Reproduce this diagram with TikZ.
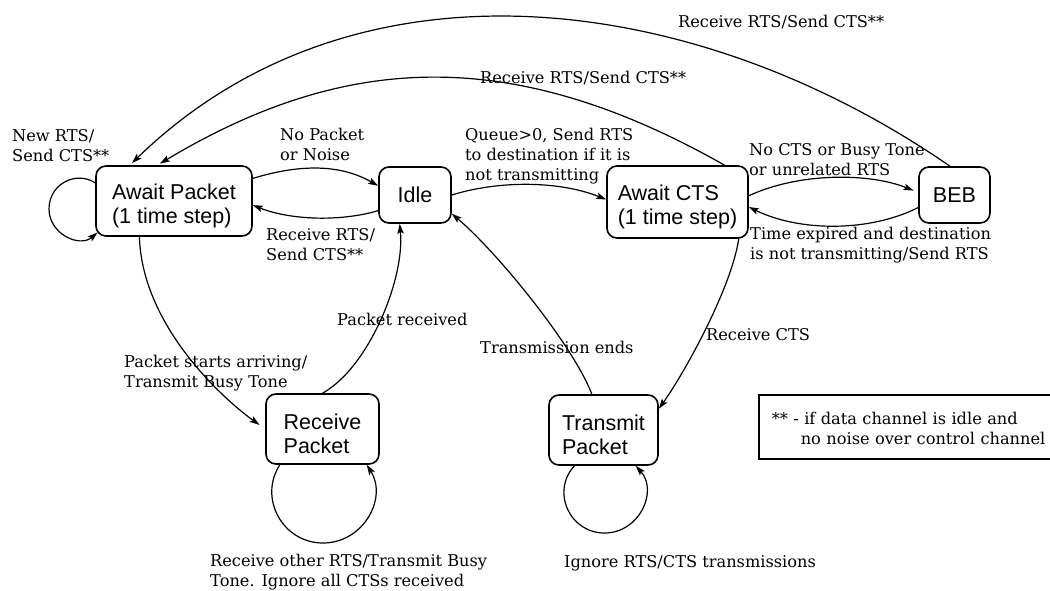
\documentclass[tikz,border=0pt]{standalone}
\usepackage{fontspec}
\setmainfont{DejaVu Serif}
\newfontfamily\sansf{Liberation Sans}
\usetikzlibrary{arrows.meta}
\newcommand\tallstrut{\rule{0pt}{25.5pt}}
\begin{document}
\begin{tikzpicture}[x=1pt,y=-1pt,
  state/.style={draw, line width=1.6pt, rounded corners=10pt, align=left, inner sep=0pt, font=\fontsize{21.5}{23.5}\sansf},
  lbl/.style={align=left, anchor=base west, inner sep=0pt, font=\fontsize{16.2}{20}\selectfont},
  edge/.style={line width=1.2pt, -{Stealth[length=10pt,width=6.5pt,inset=2pt]}},
  legendbox/.style={draw, line width=1.6pt, anchor=north west, align=left, text width=290pt, inner xsep=13pt, inner ysep=0pt, minimum height=64pt, font=\fontsize{16.2}{20}\selectfont}
]
\useasboundingbox (0,0) rectangle (1050,590);

% states
\node[state, minimum width=156pt, minimum height=70pt] (ap) at (174,201) {\tallstrut Await Packet\\(1 time step)};
\node[state, minimum width=72pt, minimum height=56pt] (idle) at (415,195) {Idle};
\node[state, minimum width=141pt, minimum height=72pt] (cts) at (677.5,202) {\tallstrut Await CTS\\(1 time step)};
\node[state, minimum width=71pt, minimum height=56pt] (beb) at (954.5,195) {BEB};
\node[state, minimum width=113pt, minimum height=70pt] (rp) at (322.5,429) {\tallstrut Receive\\Packet};
\node[state, minimum width=109pt, minimum height=70pt] (tp) at (603.5,430) {\tallstrut Transmit\\Packet};

% legend
\node[legendbox] (legend) at (758,394) {\rule{0pt}{15pt}** - if data channel is idle and\\\hspace*{29pt}no noise over control channel};

% connectors
\draw[edge] (ap.16) .. controls (300,164) and (340,164) .. (idle.166);
\draw[edge] (idle.-157.4) .. controls (340,222) and (290,220) .. (ap.-3);
\draw[edge] (idle.east) .. controls (500,180) and (560,181) .. (cts.178.4);
\draw[edge, shorten >=5pt] (cts.5.6) .. controls (800,172) and (870,173) .. (beb.176.8);
\draw[edge] (beb.-161.3) .. controls (870,232) and (800,232) .. (cts.-4);
\draw[edge] (cts.-31.6) .. controls (731,290) and (683,375) .. (tp.21.6);
\draw[edge] (tp.108.2) .. controls (573,345) and (497,252) .. (idle.-27.8);
\draw[edge] (rp.north) .. controls (368,368) and (405,280) .. (idle.-118);
\draw[edge, shorten >=7pt] (ap.-134.2) .. controls (142,325) and (222,398) .. (rp.west);
\draw[edge] (rp.-140.3) .. controls (258.2,497.9) and (282.5,543) .. (323,543) .. controls (363.5,543) and (387.8,497.9) .. (rp.-39.1);
\draw[edge] (tp.-129.4) .. controls (550.8,490.9) and (569.2,533) .. (604.5,533) .. controls (639.8,533) and (658.2,490.9) .. (tp.-48.7);
\draw[edge, shorten >=-3pt] (ap.167.9) .. controls (75.6,170.3) and (49,184.2) .. (49,209) .. controls (49,233.8) and (79.3,247.9) .. (ap.-157.7);
\draw[edge, shorten >=3pt] (cts.38.4) .. controls (510,43.4) and (343.2,53.9) .. (ap.115.9);
\draw[edge, shorten >=3pt] (beb.99.1) .. controls (697,-8.8) and (356.3,-54.6) .. (ap.141.5);

% labels (anchor = baseline of the last line)
\node[lbl] (l1) at (12,161) {New RTS/\\Send CTS**};
\node[lbl] (l2) at (280,160) {No Packet\\or Noise};
\node[lbl] (l3) at (266,260) {Receive RTS/\\Send CTS**};
\node[lbl] (l4) at (465,180) {Queue>0, Send RTS\\to destination if it is\\not transmitting};
\node[lbl] (l5) at (749,175) {No CTS or Busy Tone\\or unrelated RTS};
\node[lbl] (l6) at (750,259) {Time expired and destination\\is not transmitting/Send RTS};
\node[lbl] (l7) at (706,340) {Receive CTS};
\node[lbl] (l8) at (480,353) {Transmission ends};
\node[lbl] (l9) at (337,325) {Packet received};
\node[lbl] (l10) at (124,387) {Packet starts arriving/\\Transmit Busy Tone};
\node[lbl] (l11) at (210,586) {Receive other RTS/Transmit Busy\\Tone. Ignore all CTSs received};
\node[lbl] (l12) at (564,567) {Ignore RTS/CTS transmissions};
\node[lbl] (l13) at (480,83) {Receive RTS/Send CTS**};
\node[lbl] (l14) at (678,27) {Receive RTS/Send CTS**};
\end{tikzpicture}
\end{document}
